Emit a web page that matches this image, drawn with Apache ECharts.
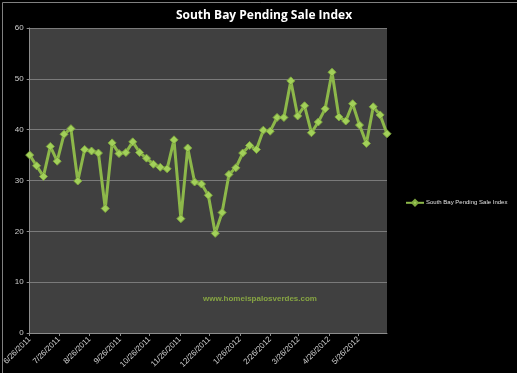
<!DOCTYPE html>
<html>
<head>
<meta charset="utf-8">
<script src="https://cdn.jsdelivr.net/npm/echarts@6/dist/echarts.min.js"></script>
<style>
html,body{margin:0;padding:0;background:#000;}
#chart{width:517px;height:373px;}
</style>
</head>
<body>
<div id="chart"></div>
<script>
var titleText = "South Bay Pending Sale Index";
var seriesName = "South Bay Pending Sale Index";
var watermark = "www.homeispalosverdes.com";
var startDate = [2011, 6, 26];   // first weekly observation
var weekCount = 53;
var yTicks = [0, 10, 20, 30, 40, 50, 60];
var values = [
  35.0, 32.9, 30.8, 36.7, 33.8, 39.1, 40.2, 29.9, 36.1, 35.8,
  35.4, 24.5, 37.4, 35.3, 35.5, 37.6, 35.5, 34.4, 33.2, 32.6,
  32.3, 38.0, 22.5, 36.4, 29.7, 29.3, 27.1, 19.6, 23.7, 31.2,
  32.5, 35.4, 36.9, 36.1, 39.9, 39.7, 42.4, 42.4, 49.6, 42.7,
  44.7, 39.4, 41.5, 44.1, 51.3, 42.5, 41.7, 45.1, 40.9, 37.3,
  44.5, 42.9, 39.2
];

function fmt(d){ return (d.getUTCMonth()+1) + "/" + d.getUTCDate() + "/" + d.getUTCFullYear(); }
var t0 = Date.UTC(startDate[0], startDate[1]-1, startDate[2]);
var DAY = 86400000;
var days = [];
for (var i = 0; i <= (weekCount-1)*7; i++) days.push(fmt(new Date(t0 + i*DAY)));
var weekDates = [];
for (var w = 0; w < weekCount; w++) weekDates.push(fmt(new Date(t0 + w*7*DAY)));
var seriesData = weekDates.map(function(d, k){ return [d, values[k]]; });

function isMonthTick(idx, val){ return val.split("/")[1] === "26"; }

var chart = echarts.init(document.getElementById('chart'));
chart.setOption({
  backgroundColor: '#000',
  animation: false,
  title: {
    text: titleText, left: 259, top: 5, textAlign: 'center',
    textStyle: {color: '#fff', fontSize: 12, fontWeight: 'bold', fontFamily: 'Open Sans'}
  },
  legend: {
    left: 400, top: 194, itemWidth: 18, itemHeight: 7, itemGap: 2,
    textStyle: {color: '#e0e0e0', fontSize: 6, fontFamily: 'Liberation Sans', padding: [0,0,0,-3]},
    data: [seriesName]
  },
  grid: {left: 29, right: 130, top: 28, bottom: 40, backgroundColor: '#404040', show: true, borderWidth: 0},
  graphic: [
    {type: 'rect', left: 0, top: 0, shape: {width: 516, height: 372}, style: {fill: 'none', stroke: '#808080', lineWidth: 1}, silent: true},
    {type: 'text', left: 203, top: 295, style: {text: watermark, fill: '#86a443', font: 'bold 8px "Liberation Sans"'}}
  ],
  xAxis: {
    type: 'category', data: days, boundaryGap: false,
    axisLine: {lineStyle: {color: '#8c8c8c'}},
    axisTick: {interval: isMonthTick, length: 3, lineStyle: {color: '#8c8c8c'}},
    axisLabel: {interval: isMonthTick, rotate: 45, color: '#cfcfcf', fontSize: 8, margin: 5, fontFamily: 'Liberation Sans'},
    splitLine: {show: false}
  },
  yAxis: {
    type: 'value', min: 0, max: 60, interval: 10,
    axisLine: {show: true, lineStyle: {color: '#8c8c8c'}},
    axisTick: {show: true, length: 3, lineStyle: {color: '#8c8c8c'}},
    axisLabel: {color: '#cfcfcf', fontSize: 8, margin: 6, fontFamily: 'Liberation Sans',
      formatter: function(v){ return yTicks.indexOf(v) >= 0 ? String(v) : ''; }},
    splitLine: {lineStyle: {color: '#7a7a7a', width: 1}}
  },
  series: [{
    name: seriesName, type: 'line', data: seriesData,
    symbol: 'diamond', symbolSize: 8, showSymbol: true, showAllSymbol: true,
    lineStyle: {color: '#8db84a', width: 3},
    itemStyle: {color: '#a2d05a', borderColor: '#7fa83f', borderWidth: 1}
  }]
});
</script>
</body>
</html>
